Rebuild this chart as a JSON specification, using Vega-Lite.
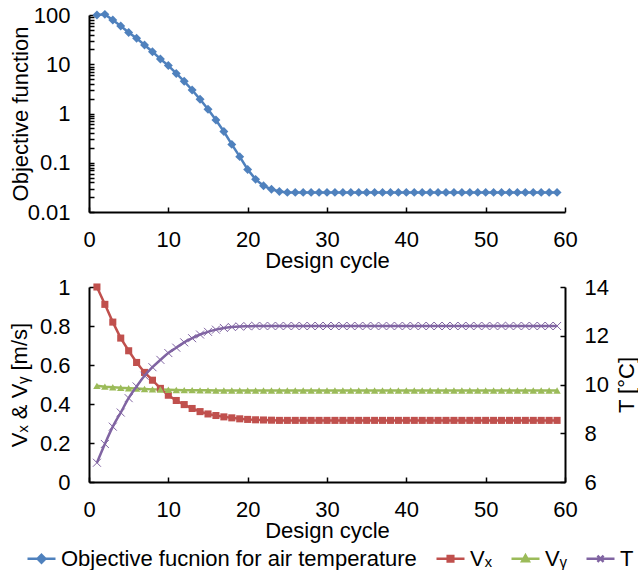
{
  "$schema": "https://vega.github.io/schema/vega-lite/v6.json",
  "padding": {"left": 8, "top": 4, "right": 0, "bottom": 0},
  "background": "white",
  "data": {"values": [
    {"c":1,"obj":100,"Vx":1.0,"Vy":0.493,"T":6.79},
    {"c":2,"obj":103,"Vx":0.911,"Vy":0.489,"T":7.56},
    {"c":3,"obj":79,"Vx":0.82,"Vy":0.486,"T":8.27},
    {"c":4,"obj":60,"Vx":0.738,"Vy":0.483,"T":8.85},
    {"c":5,"obj":44,"Vx":0.673,"Vy":0.481,"T":9.44},
    {"c":6,"obj":33.6,"Vx":0.613,"Vy":0.479,"T":9.92},
    {"c":7,"obj":24.6,"Vx":0.562,"Vy":0.477,"T":10.36},
    {"c":8,"obj":18,"Vx":0.522,"Vy":0.475,"T":10.71},
    {"c":9,"obj":12.8,"Vx":0.48,"Vy":0.474,"T":11.01},
    {"c":10,"obj":9.4,"Vx":0.445,"Vy":0.473,"T":11.29},
    {"c":11,"obj":6.5,"Vx":0.418,"Vy":0.472,"T":11.51},
    {"c":12,"obj":4.5,"Vx":0.397,"Vy":0.471,"T":11.73},
    {"c":13,"obj":3.0,"Vx":0.377,"Vy":0.471,"T":11.9},
    {"c":14,"obj":1.94,"Vx":0.361,"Vy":0.47,"T":12.05},
    {"c":15,"obj":1.22,"Vx":0.349,"Vy":0.47,"T":12.16},
    {"c":16,"obj":0.74,"Vx":0.341,"Vy":0.469,"T":12.25},
    {"c":17,"obj":0.43,"Vx":0.334,"Vy":0.469,"T":12.32},
    {"c":18,"obj":0.236,"Vx":0.329,"Vy":0.469,"T":12.36},
    {"c":19,"obj":0.133,"Vx":0.324,"Vy":0.469,"T":12.38},
    {"c":20,"obj":0.073,"Vx":0.321,"Vy":0.469,"T":12.39},
    {"c":21,"obj":0.046,"Vx":0.319,"Vy":0.469,"T":12.4},
    {"c":22,"obj":0.034,"Vx":0.318,"Vy":0.469,"T":12.4},
    {"c":23,"obj":0.029,"Vx":0.317,"Vy":0.469,"T":12.4},
    {"c":24,"obj":0.026,"Vx":0.316,"Vy":0.469,"T":12.4},
    {"c":25,"obj":0.025,"Vx":0.316,"Vy":0.469,"T":12.4},
    {"c":26,"obj":0.025,"Vx":0.316,"Vy":0.469,"T":12.4},
    {"c":27,"obj":0.025,"Vx":0.316,"Vy":0.469,"T":12.4},
    {"c":28,"obj":0.025,"Vx":0.316,"Vy":0.469,"T":12.4},
    {"c":29,"obj":0.025,"Vx":0.316,"Vy":0.469,"T":12.4},
    {"c":30,"obj":0.025,"Vx":0.316,"Vy":0.469,"T":12.4},
    {"c":31,"obj":0.025,"Vx":0.316,"Vy":0.469,"T":12.4},
    {"c":32,"obj":0.025,"Vx":0.316,"Vy":0.469,"T":12.4},
    {"c":33,"obj":0.025,"Vx":0.316,"Vy":0.469,"T":12.4},
    {"c":34,"obj":0.025,"Vx":0.316,"Vy":0.469,"T":12.4},
    {"c":35,"obj":0.025,"Vx":0.316,"Vy":0.469,"T":12.4},
    {"c":36,"obj":0.025,"Vx":0.316,"Vy":0.469,"T":12.4},
    {"c":37,"obj":0.025,"Vx":0.316,"Vy":0.469,"T":12.4},
    {"c":38,"obj":0.025,"Vx":0.316,"Vy":0.469,"T":12.4},
    {"c":39,"obj":0.025,"Vx":0.316,"Vy":0.469,"T":12.4},
    {"c":40,"obj":0.025,"Vx":0.316,"Vy":0.469,"T":12.4},
    {"c":41,"obj":0.025,"Vx":0.316,"Vy":0.469,"T":12.4},
    {"c":42,"obj":0.025,"Vx":0.316,"Vy":0.469,"T":12.4},
    {"c":43,"obj":0.025,"Vx":0.316,"Vy":0.469,"T":12.4},
    {"c":44,"obj":0.025,"Vx":0.316,"Vy":0.469,"T":12.4},
    {"c":45,"obj":0.025,"Vx":0.316,"Vy":0.469,"T":12.4},
    {"c":46,"obj":0.025,"Vx":0.316,"Vy":0.469,"T":12.4},
    {"c":47,"obj":0.025,"Vx":0.316,"Vy":0.469,"T":12.4},
    {"c":48,"obj":0.025,"Vx":0.316,"Vy":0.469,"T":12.4},
    {"c":49,"obj":0.025,"Vx":0.316,"Vy":0.469,"T":12.4},
    {"c":50,"obj":0.025,"Vx":0.316,"Vy":0.469,"T":12.4},
    {"c":51,"obj":0.025,"Vx":0.316,"Vy":0.469,"T":12.4},
    {"c":52,"obj":0.025,"Vx":0.316,"Vy":0.469,"T":12.4},
    {"c":53,"obj":0.025,"Vx":0.316,"Vy":0.469,"T":12.4},
    {"c":54,"obj":0.025,"Vx":0.316,"Vy":0.469,"T":12.4},
    {"c":55,"obj":0.025,"Vx":0.316,"Vy":0.469,"T":12.4},
    {"c":56,"obj":0.025,"Vx":0.316,"Vy":0.469,"T":12.4},
    {"c":57,"obj":0.025,"Vx":0.316,"Vy":0.469,"T":12.4},
    {"c":58,"obj":0.025,"Vx":0.316,"Vy":0.469,"T":12.4},
    {"c":59,"obj":0.025,"Vx":0.316,"Vy":0.469,"T":12.4}
  ]},
  "config": {
    "font": "Liberation Sans",
    "view": {"stroke": null},
    "axis": {
      "labelFont": "Liberation Sans", "titleFont": "Liberation Sans",
      "labelFontSize": 22, "titleFontSize": 22, "titleFontWeight": "normal",
      "labelColor": "#000000", "titleColor": "#000000",
      "domainColor": "#000000", "domainWidth": 2,
      "tickColor": "#000000", "tickWidth": 1.5, "tickSize": -5,
      "grid": false, "labelFlush": false, "labelPadding": 24, "labelOverlap": false
    },
    "legend": {
      "labelFont": "Liberation Sans", "labelFontSize": 22, "labelColor": "#000000", "labelLimit": 500
    }
  },
  "spacing": 5,
  "vconcat": [
    {
      "width": 476, "height": 197,
      "encoding": {
        "x": {"field": "c", "type": "quantitative", "scale": {"domain": [0, 60], "nice": false},
              "axis": {"title": "Design cycle", "values": [0,10,20,30,40,50,60], "titlePadding": 0, "labelPadding": 22}},
        "y": {"field": "obj", "type": "quantitative",
              "scale": {"type": "log", "domain": [0.01, 100], "nice": false},
              "axis": {"title": "Objective function", "titlePadding": -5,
                       "values": [0.01,0.02,0.03,0.04,0.05,0.06,0.07,0.08,0.09,0.1,0.2,0.3,0.4,0.5,0.6,0.7,0.8,0.9,1,2,3,4,5,6,7,8,9,10,20,30,40,50,60,70,80,90,100],
                       "labelExpr": "indexof([0.01,0.1,1,10,100], datum.value) >= 0 ? format(datum.value, '') : ''"}}
      },
      "layer": [
        {"mark": {"type": "line", "strokeWidth": 2.5, "clip": false},
         "encoding": {"color": {"datum": "Objective fucnion for air temperature", "type": "nominal", "title": null,
            "scale": {"domain": ["Objective fucnion for air temperature", "Vx", "Vy", "T"],
                      "range": ["#4F81BD", "#C0504D", "#9BBB59", "#8064A2"]},
            "legend": {
              "orient": "none", "legendX": -63, "legendY": 528, "direction": "horizontal", "title": null,
              "symbolSize": 784, "symbolStrokeWidth": 2.5, "labelOffset": 4, "columnPadding": 14, "labelLimit": 500,
              "labelExpr": "datum.label === 'Vx' ? 'Vₓ' : datum.label === 'Vy' ? 'Vᵧ' : datum.label",
              "encode": {"symbols": {"update": {
                "shape": {"signal": "datum.value === 'T' ? 'M-1,0H1M-0.22,-0.22L0.22,0.22M-0.22,0.22L0.22,-0.22' : datum.value === 'Vx' ? 'M-1,0H1M-0.2,-0.2H0.2V0.2H-0.2Z' : datum.value === 'Vy' ? 'M-1,0H1M0,-0.24L0.24,0.18H-0.24Z' : 'M-1,0H1M0,-0.28L0.28,0L0,0.28L-0.28,0Z'"},
                "fill": {"scale": "color", "field": "value"},
                "stroke": {"scale": "color", "field": "value"},
                "fillOpacity": {"value": 1},
                "strokeOpacity": {"value": 1}
              }}}
            }}}},
        {"mark": {"type": "point", "shape": "diamond", "filled": true, "size": 80, "opacity": 1, "clip": false},
         "encoding": {"color": {"datum": "Objective fucnion for air temperature", "type": "nominal", "title": null}}}
      ]
    },
    {
      "width": 476, "height": 195,
      "layer": [
        {
          "transform": [{"fold": ["Vx", "Vy"], "as": ["s", "v"]}],
          "encoding": {
            "x": {"field": "c", "type": "quantitative", "scale": {"domain": [0, 60], "nice": false},
                  "axis": {"title": "Design cycle", "values": [0,10,20,30,40,50,60], "titlePadding": 0, "labelPadding": 22}},
            "y": {"field": "v", "type": "quantitative", "scale": {"domain": [0, 1], "nice": false},
                  "axis": {"title": "Vₓ & Vᵧ [m/s]", "values": [0,0.2,0.4,0.6,0.8,1], "format": "~g", "titlePadding": 8}},
            "color": {"field": "s", "type": "nominal", "title": null}
          },
          "layer": [
            {"mark": {"type": "line", "strokeWidth": 2.5}},
            {"transform": [{"filter": "datum.s === 'Vx'"}],
             "mark": {"type": "point", "shape": "square", "filled": true, "size": 50, "opacity": 1}},
            {"transform": [{"filter": "datum.s === 'Vy'"}],
             "mark": {"type": "point", "shape": "triangle-up", "filled": true, "size": 55, "opacity": 1}}
          ]
        },
        {
          "encoding": {
            "x": {"field": "c", "type": "quantitative", "scale": {"domain": [0, 60], "nice": false}},
            "y": {"field": "T", "type": "quantitative", "scale": {"domain": [6, 14], "nice": false},
                  "axis": {"title": "T [°C]", "orient": "right", "values": [6,8,10,12,14], "format": "d",
                           "titlePadding": 8, "titleAngle": 270, "titleBaseline": "top"}},
            "color": {"datum": "T", "type": "nominal", "title": null}
          },
          "layer": [
            {"mark": {"type": "line", "strokeWidth": 2.5, "interpolate": "monotone"}},
            {"mark": {"type": "point", "shape": "M-1,-1L1,1M-1,1L1,-1", "filled": false, "size": 64, "opacity": 1, "strokeWidth": 1}}
          ]
        }
      ],
      "resolve": {"scale": {"y": "independent"}}
    }
  ]
}
